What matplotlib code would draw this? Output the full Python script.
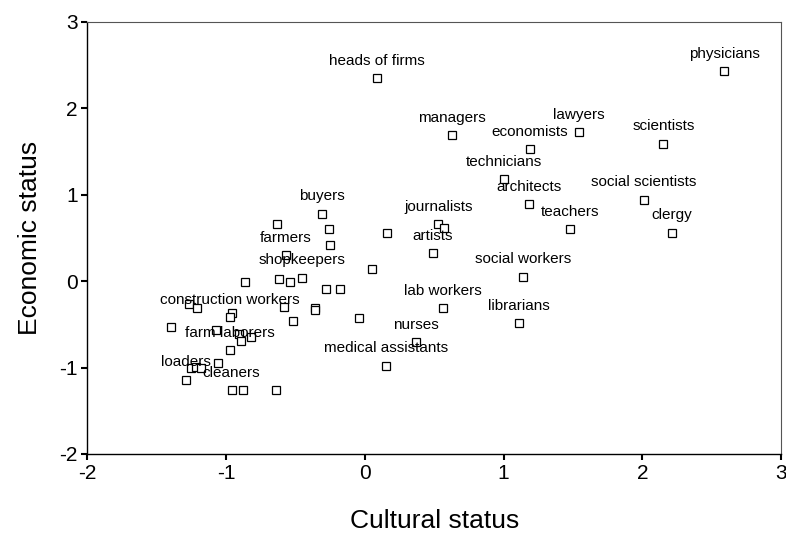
import matplotlib
matplotlib.use('Agg')
from matplotlib import pyplot as plt

plt.rcParams['font.family'] = ['Liberation Sans', 'DejaVu Sans']
plt.rcParams['axes.unicode_minus'] = False

# occupations (empty name = unlabelled point)
names = ['physicians', 'heads of firms', 'managers', 'lawyers', 'economists',
         'scientists', 'technicians', 'architects', 'social scientists', 'teachers',
         'clergy', 'journalists', '', 'artists', '', 'buyers', '', '', '',
         'farmers', '', 'shopkeepers', '', '', '', '', '', 'social workers',
         '', '', '', 'construction workers', '', '', '', '', '', 'lab workers',
         'librarians', 'nurses', 'medical assistants', '', '', '', '', '',
         'farm laborers', '', '', '', '', 'loaders', 'cleaners', '', '']
cultural = [2.59, 0.09, 0.63, 1.54, 1.19,
            2.15, 1.00, 1.18, 2.01, 1.48,
            2.21, 0.53, 0.57, 0.49, 0.16, -0.31, -0.63, -0.26, -0.25,
            -0.57, 0.05, -0.45, -0.62, -0.54, -0.86, -0.28, -0.18, 1.14,
            -1.27, -1.21, -0.96, -0.97, -0.58, -0.36, -0.36, -0.52, -0.04, 0.56,
            1.11, 0.37, 0.15, -1.40, -1.07, -0.91, -0.89, -0.82,
            -0.97, -1.06, -1.25, -1.22, -1.18, -1.29, -0.96, -0.88, -0.64]
economic = [2.43, 2.35, 1.69, 1.72, 1.53,
            1.59, 1.18, 0.89, 0.94, 0.60,
            0.56, 0.66, 0.62, 0.32, 0.56, 0.78, 0.66, 0.60, 0.42,
            0.30, 0.14, 0.04, 0.02, -0.01, -0.01, -0.09, -0.09, 0.05,
            -0.27, -0.31, -0.37, -0.42, -0.30, -0.31, -0.34, -0.46, -0.43, -0.31,
            -0.49, -0.71, -0.98, -0.53, -0.56, -0.61, -0.69, -0.65,
            -0.80, -0.95, -1.01, -0.99, -1.01, -1.14, -1.26, -1.26, -1.26]

xticks = [-2, -1, 0, 1, 2, 3]
yticks = [-2, -1, 0, 1, 2, 3]

fig = plt.figure(figsize=(7.86, 5.45), dpi=100)
ax = fig.add_axes([0.111, 0.167, 0.883, 0.793])

ax.plot(cultural, economic, 's', markersize=5.5, markerfacecolor='white',
        markeredgecolor='black', markeredgewidth=0.9, linestyle='none')

for name, x, y in zip(names, cultural, economic):
    if name:
        ax.annotate(name, (x, y), xytext=(0, 12.5), textcoords='offset points',
                    ha='center', va='center', fontsize=11)

ax.set_xlim(-2, 3)
ax.set_ylim(-2, 3)
ax.set_xticks(xticks)
ax.set_yticks(yticks)
ax.tick_params(direction='out', length=4, width=1.5, labelsize=15, pad=3)

for side in ['top', 'right']:
    ax.spines[side].set_color('#555555')
    ax.spines[side].set_linewidth(0.8)
for side in ['left', 'bottom']:
    ax.spines[side].set_linewidth(1.0)

ax.set_xlabel('Cultural status', fontsize=19, labelpad=19)
ax.set_ylabel('Economic status', fontsize=19, labelpad=12)

fig.savefig('out.png', dpi=100)
